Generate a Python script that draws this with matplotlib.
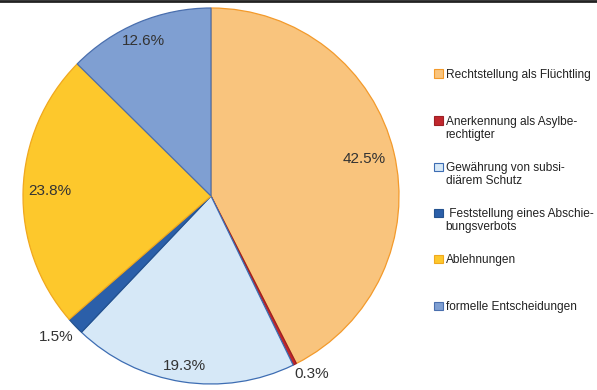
import numpy as np
import matplotlib.pyplot as plt
from matplotlib.patches import Rectangle
from matplotlib.lines import Line2D

plt.rcParams['font.family'] = ['Liberation Sans', 'DejaVu Sans']

categories = ['Rechtstellung als Flüchtling',
              'Anerkennung als Asylbe-\nrechtigter',
              'Gewährung von subsi-\ndiärem Schutz',
              ' Feststellung eines Abschie-\nbungsverbots',
              'Ablehnungen',
              'formelle Entscheidungen']
shares = [42.5, 0.3, 19.3, 1.5, 23.8, 12.6]
labels = ['42.5%', '0.3%', '19.3%', '1.5%', '23.8%', '12.6%']

fills = ['#f9c47d', '#c0272d', '#d6e8f7', '#2b5fa9', '#fdc82c', '#7f9fd2']
edges = ['#f39a2b', '#9e1f24', '#3d6db3', '#24528f', '#f0a81e', '#4a6fae']
label_r = [0.84, 1.09, 0.915, 1.115, 0.86, 0.90]
label_da = [0, 3, 0, -1.5, 0, 1]

fig = plt.figure(figsize=(5.97, 3.90), dpi=100)
ax = fig.add_axes([23/597, 6/390, 376/597, 376/390])
wedges, _ = ax.pie(shares, colors=fills, startangle=90, counterclock=False,
                   radius=1, wedgeprops=dict(linewidth=0.9))
for w, ec in zip(wedges, edges):
    w.set_edgecolor(ec)
ax.set_xlim(-1, 1)
ax.set_ylim(-1, 1)
ax.set_aspect('auto')

for w, lab, r, da in zip(wedges, labels, label_r, label_da):
    a = np.deg2rad((w.theta1 + w.theta2) / 2 + da)
    ax.text(r*np.cos(a), r*np.sin(a), lab, ha='center', va='center',
            fontsize=11, color='#333333')

# legend
ys = [74, 121, 167, 213, 259, 306]
for y, lab, fc, ec in zip(ys, categories, fills, edges):
    nlines = lab.count('\n') + 1
    fig.patches.append(Rectangle((434/597, 1 - (y + 4)/390), 8.5/597, 8.5/390,
                                 transform=fig.transFigure, facecolor=fc,
                                 edgecolor=ec, linewidth=0.8))
    yc = y + 1 + (nlines - 1) * 6.25
    fig.text(445.5/597, 1 - yc/390, lab, ha='left', va='center', fontsize=8.6,
             color='#222222', linespacing=1.12)

fig.lines.append(Line2D([0, 1], [1 - 1/390, 1 - 1/390], transform=fig.transFigure,
                        color='#222222', linewidth=2))

fig.savefig('out.png', dpi=100)
